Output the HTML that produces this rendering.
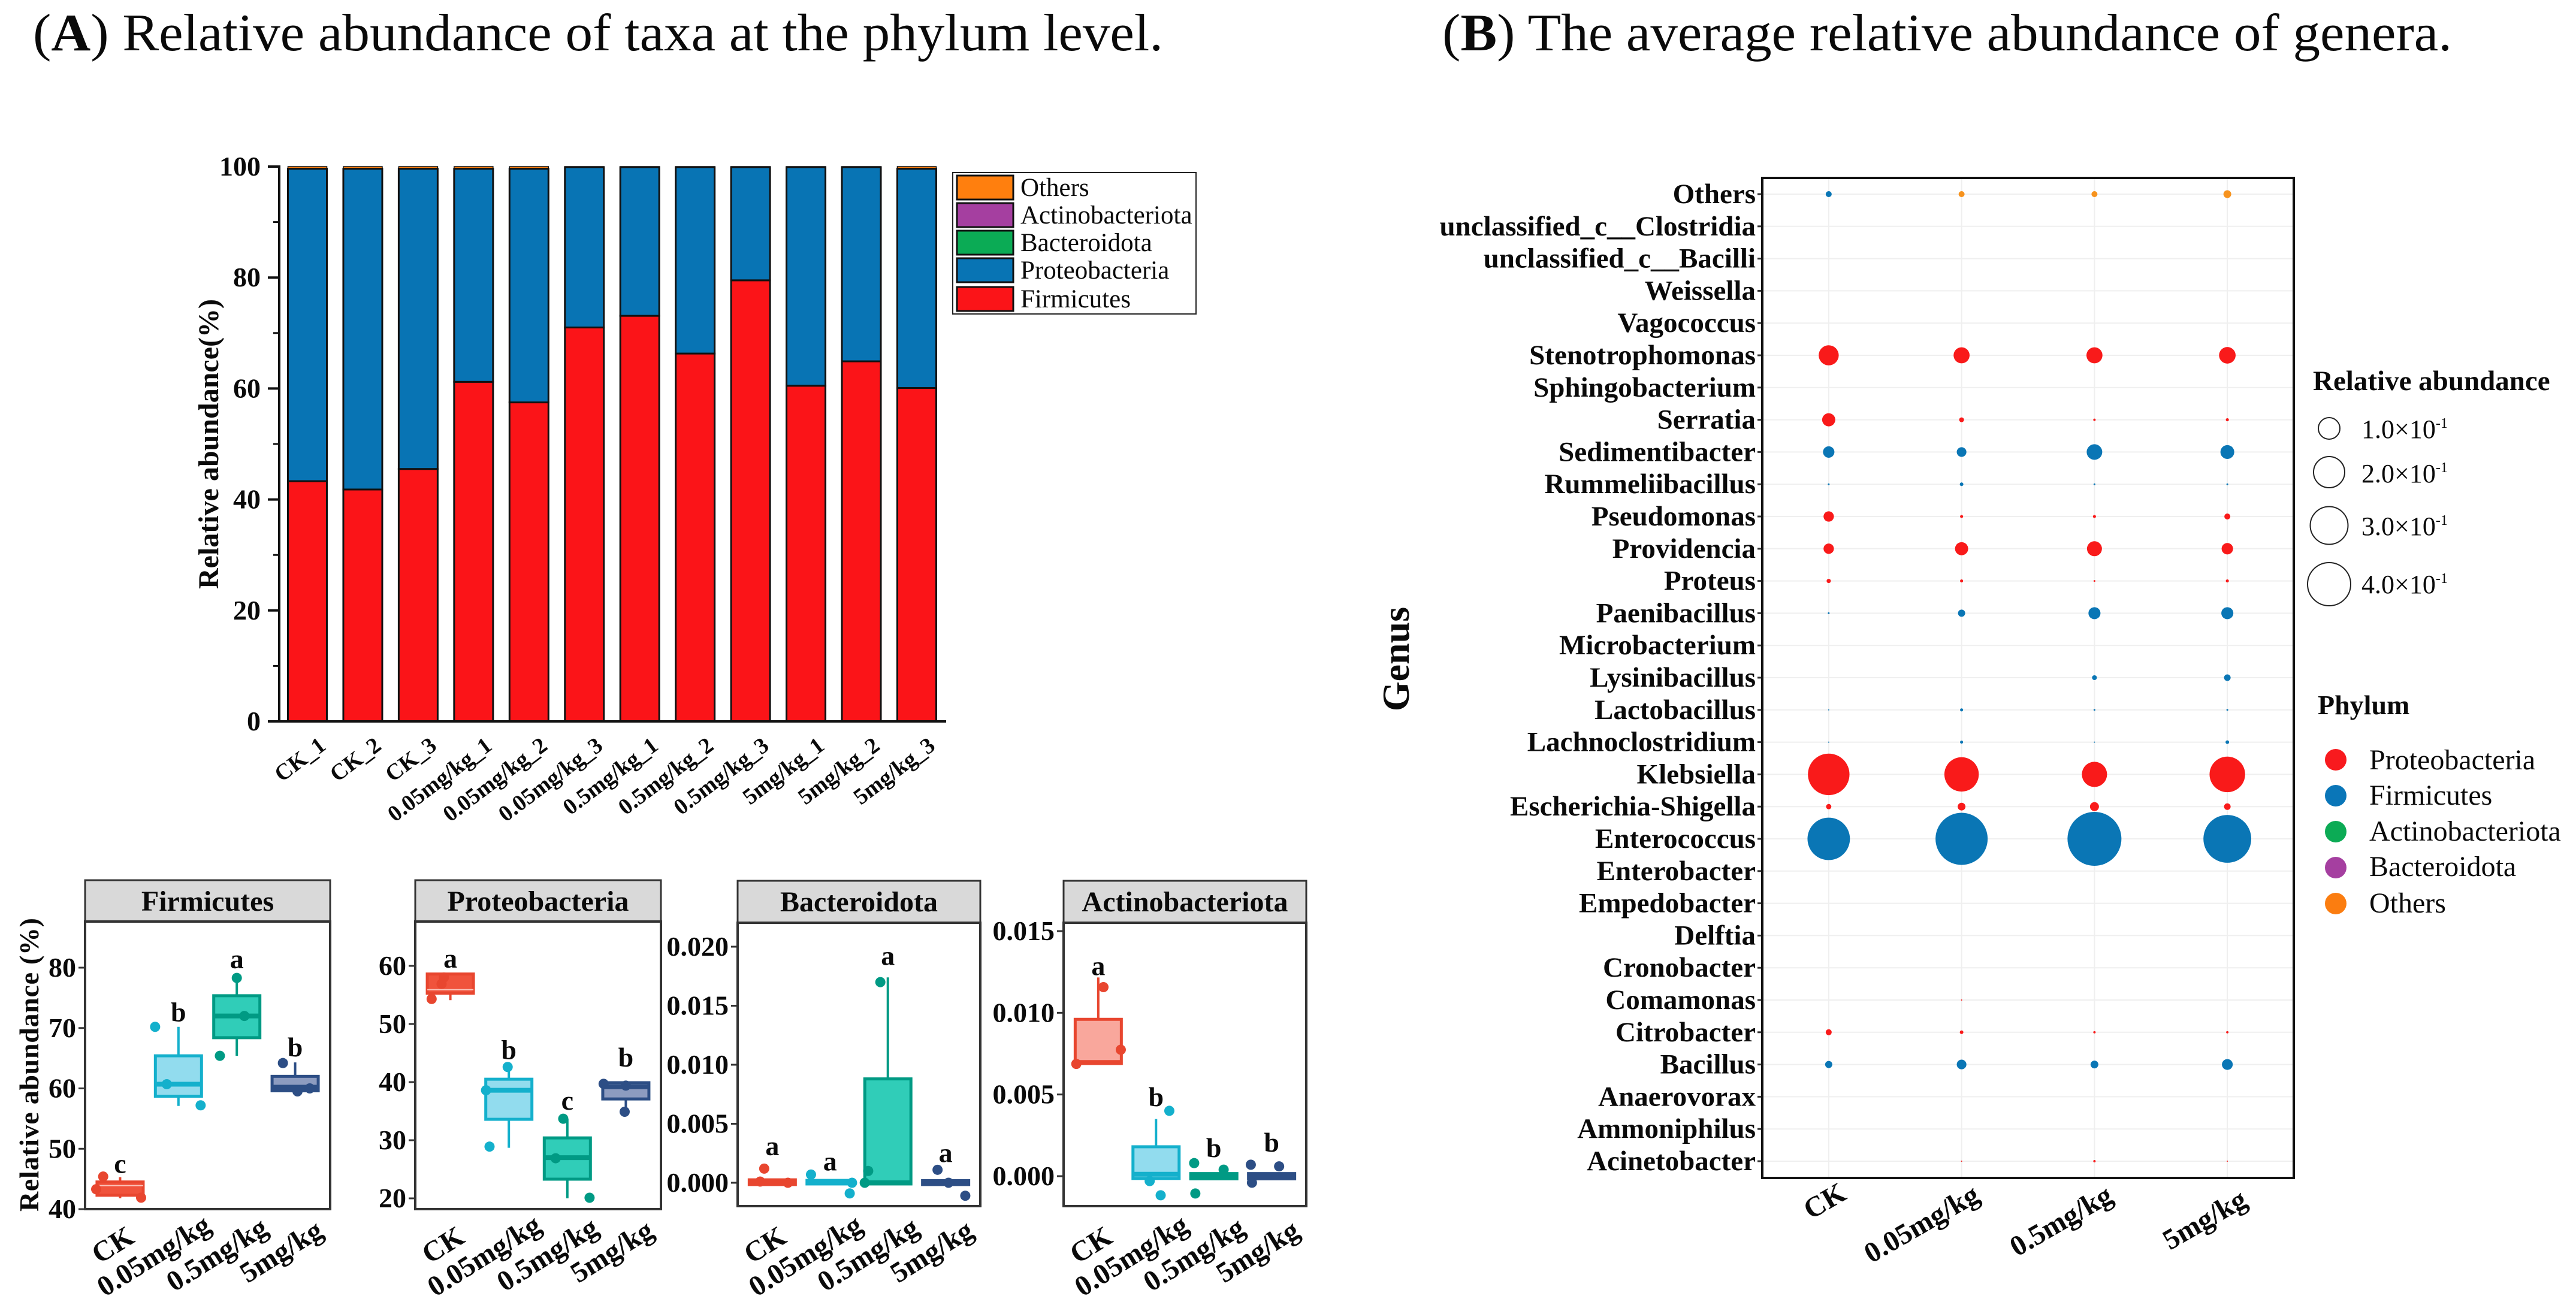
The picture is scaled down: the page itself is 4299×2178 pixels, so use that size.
<!DOCTYPE html>
<html lang="en">
<head>
<meta charset="utf-8">
<title>Relative abundance of taxa and genera</title>
<style>
html,body{margin:0;padding:0;background:#fff;}
body{width:4299px;height:2178px;overflow:hidden;}
svg{display:block;font-family:"Liberation Serif","Noto Serif CJK SC",serif;}
text{fill:#0a0a0a;}
.b{font-weight:bold;}
</style>
</head>
<body>
<svg id="fig" xmlns="http://www.w3.org/2000/svg" width="4299" height="2178" viewBox="0 0 4299 2178">
  <rect x="0" y="0" width="4299" height="2178" fill="#ffffff"/>
  <text x="55" y="84" font-size="88" textLength="1886" lengthAdjust="spacingAndGlyphs">(<tspan class="b">A</tspan>) Relative abundance of taxa at the phylum level.</text>
  <text x="2407" y="84" font-size="88" textLength="1685" lengthAdjust="spacingAndGlyphs">(<tspan class="b">B</tspan>) The average relative abundance of genera.</text>

  <g id="barChart"></g>
  <text class="b" font-size="48" text-anchor="middle" transform="translate(364 741) rotate(-90)">Relative abundance(%)</text>

  <g>
    <rect x="1590" y="288" width="406" height="236" fill="#fff" stroke="#222" stroke-width="2"/>
    <rect x="1597" y="293" width="94" height="40" fill="#ff7f0e" stroke="#111" stroke-width="3"/>
    <rect x="1597" y="339" width="94" height="40" fill="#a53fa0" stroke="#111" stroke-width="3"/>
    <rect x="1597" y="385" width="94" height="40" fill="#0bab55" stroke="#111" stroke-width="3"/>
    <rect x="1597" y="431" width="94" height="40" fill="#0874b4" stroke="#111" stroke-width="3"/>
    <rect x="1597" y="479" width="94" height="40" fill="#fb1418" stroke="#111" stroke-width="3"/>
    <text x="1703" y="327" font-size="43">Others</text>
    <text x="1703" y="373" font-size="43">Actinobacteriota</text>
    <text x="1703" y="419" font-size="43">Bacteroidota</text>
    <text x="1703" y="465" font-size="43">Proteobacteria</text>
    <text x="1703" y="513" font-size="43">Firmicutes</text>
  </g>

  <g id="boxPanels"></g>
  <text class="b" font-size="46" transform="translate(64 2022) rotate(-90)" textLength="490" lengthAdjust="spacing">Relative abundance  (%)</text>

  <g id="bubbleChart"></g>
  <text class="b" font-size="64" text-anchor="middle" transform="translate(2351 1100) rotate(-90)">Genus</text>

  <g>
    <text class="b" x="3860" y="651" font-size="47">Relative abundance</text>
    <circle cx="3887" cy="715" r="18" fill="none" stroke="#222" stroke-width="2"/>
    <circle cx="3887" cy="788" r="26" fill="none" stroke="#222" stroke-width="2"/>
    <circle cx="3887" cy="877" r="31.5" fill="none" stroke="#222" stroke-width="2"/>
    <circle cx="3887" cy="975" r="36" fill="none" stroke="#222" stroke-width="2"/>
    <text x="3941" y="731" font-size="44">1.0×10<tspan font-size="24" dy="-17">-1</tspan></text>
    <text x="3941" y="805" font-size="44">2.0×10<tspan font-size="24" dy="-17">-1</tspan></text>
    <text x="3941" y="893" font-size="44">3.0×10<tspan font-size="24" dy="-17">-1</tspan></text>
    <text x="3941" y="990" font-size="44">4.0×10<tspan font-size="24" dy="-17">-1</tspan></text>
  </g>

  <g>
    <text class="b" x="3868" y="1192" font-size="46">Phylum</text>
    <circle cx="3898" cy="1268" r="18" fill="#f81a1e"/>
    <circle cx="3898" cy="1328" r="18" fill="#0a76b8"/>
    <circle cx="3898" cy="1388" r="18" fill="#0cab55"/>
    <circle cx="3898" cy="1448" r="18" fill="#a53fa0"/>
    <circle cx="3898" cy="1508" r="18" fill="#fb7d10"/>
    <text x="3954" y="1284" font-size="48">Proteobacteria</text>
    <text x="3954" y="1343" font-size="48">Firmicutes</text>
    <text x="3954" y="1403" font-size="48">Actinobacteriota</text>
    <text x="3954" y="1462" font-size="48">Bacteroidota</text>
    <text x="3954" y="1523" font-size="48">Others</text>
  </g>
</svg>

<script>
/* ---------- Stacked bars (panel A, top) ---------- */
const sampleLabels = ['CK_1','CK_2','CK_3','0.05mg/kg_1','0.05mg/kg_2','0.05mg/kg_3','0.5mg/kg_1','0.5mg/kg_2','0.5mg/kg_3','5mg/kg_1','5mg/kg_2','5mg/kg_3'];
const firmicutesValues = [43.3,41.8,45.5,61.2,57.5,71.0,73.1,66.3,79.5,60.5,64.9,60.1];
const proteobacteriaValues = [56.3,57.8,54.1,38.4,42.1,28.9,26.8,33.6,20.4,39.4,35.0,39.5];
const bacteroidotaValues = [0.05,0.05,0.05,0.05,0.05,0.02,0.02,0.02,0.02,0.02,0.02,0.05];
const actinobacteriotaValues = [0.05,0.05,0.05,0.05,0.05,0.02,0.02,0.02,0.02,0.02,0.02,0.05];
const otherPhylaValues = [0.3,0.3,0.3,0.3,0.3,0.06,0.06,0.06,0.06,0.06,0.06,0.3];
const barTicks = [0,20,40,60,80,100];
const barMinorTicks = [10,30,50,70,90];

/* ---------- Box plots (panel A, bottom) ---------- */
const doseLabels = ['CK','0.05mg/kg','0.5mg/kg','5mg/kg'];
const firmicutesTicks = [40,50,60,70,80];
const firmicutesQ1 = [42.3,58.7,68.4,59.6];
const firmicutesMedian = [43.9,60.7,72.0,60.2];
const firmicutesQ3 = [44.5,65.4,75.35,62.0];
const firmicutesWhiskerLow = [41.8,57.1,65.4,59.6];
const firmicutesWhiskerHigh = [45.3,70.2,79.0,64.3];
const firmicutesPoints = [[45.4,43.3,41.9],[70.2,60.7,57.2],[78.3,65.4,72.0],[64.2,59.5,60.0]];
const firmicutesJitter = [[-0.29,-0.41,0.36],[-0.4,-0.2,0.38],[0,-0.29,0.13],[-0.21,0.04,0.25]];
const firmicutesLetters = ['c','b','a','b'];
const firmicutesLetterValues = [47.1,72.2,81.0,66.4];

const proteobacteriaTicks = [20,30,40,50,60];
const proteobacteriaQ1 = [55.3,33.6,23.3,37.1];
const proteobacteriaMedian = [55.9,38.6,27.0,39.2];
const proteobacteriaQ3 = [58.6,40.5,30.4,39.9];
const proteobacteriaWhiskerLow = [54.1,28.7,20.0,34.9];
const proteobacteriaWhiskerHigh = [58.0,42.7,33.7,39.9];
const proteobacteriaPoints = [[58.0,54.3,56.9],[42.6,28.9,38.6],[33.7,20.1,26.9],[39.7,39.4,34.9]];
const proteobacteriaJitter = [[-0.11,-0.32,-0.15],[-0.02,-0.33,-0.39],[-0.07,0.38,-0.2],[-0.38,0,-0.02]];
const proteobacteriaLetters = ['a','b','c','b'];
const proteobacteriaLetterValues = [60.8,45.1,36.4,43.8];

const bacteroidotaTicks = [0,0.005,0.01,0.015,0.02];
const bacteroidotaQ1 = [-0.00015,-0.0001,-0.0001,-0.00015];
const bacteroidotaMedian = [0,0.00005,0,0];
const bacteroidotaQ3 = [0.00025,0.0002,0.0088,0.00018];
const bacteroidotaWhiskerLow = [-0.00015,-0.0001,-0.0001,-0.00015];
const bacteroidotaWhiskerHigh = [0.00025,0.0002,0.0174,0.00018];
const bacteroidotaPoints = [[0.0012,0.0001,0],[0.0007,0,-0.0009],[0.017,0.001,0],[0.0011,0,-0.0011]];
const bacteroidotaJitter = [[-0.14,-0.21,0.27],[-0.33,0.38,0.34],[-0.13,-0.34,-0.4],[-0.14,0.05,0.34]];
const bacteroidotaLetters = ['a','a','a','a'];
const bacteroidotaLetterValues = [0.0029,0.0016,0.019,0.0023];

const actinobacteriotaTicks = [0,0.005,0.01,0.015];
const actinobacteriotaQ1 = [0.0069,-0.00014,-0.00016,-0.00016];
const actinobacteriotaMedian = [0.00696,0.00012,0,0];
const actinobacteriotaQ3 = [0.0096,0.0018,0.00016,0.00016];
const actinobacteriotaWhiskerLow = [0.0069,-0.00014,-0.00016,-0.00016];
const actinobacteriotaWhiskerHigh = [0.01216,0.0035,0.00016,0.00016];
const actinobacteriotaPoints = [[0.01157,0.00774,0.00687],[0.004,-0.00117,-0.0003],[0.0008,-0.00106,0.0004],[0.0007,0.0006,-0.0004]];
const actinobacteriotaJitter = [[0.09,0.39,-0.38],[0.23,0.08,-0.11],[-0.34,-0.32,0.17],[-0.36,0.13,-0.34]];
const actinobacteriotaLetters = ['a','b','b','b'];
const actinobacteriotaLetterValues = [0.0127,0.0047,0.00158,0.0019];

/* ---------- Bubble chart (panel B) ---------- */
const genusLabels = ['Others','unclassified_c__Clostridia','unclassified_c__Bacilli','Weissella','Vagococcus','Stenotrophomonas','Sphingobacterium','Serratia','Sedimentibacter','Rummeliibacillus','Pseudomonas','Providencia','Proteus','Paenibacillus','Microbacterium','Lysinibacillus','Lactobacillus','Lachnoclostridium','Klebsiella','Escherichia-Shigella','Enterococcus','Enterobacter','Empedobacter','Delftia','Cronobacter','Comamonas','Citrobacter','Bacillus','Anaerovorax','Ammoniphilus','Acinetobacter'];
const genusPhylum = ['O','F','F','F','F','P','F','P','F','F','P','P','P','F','F','F','F','F','P','P','F','P','F','P','P','P','P','F','F','F','P'];
const abundanceCK = [0.0077,0,0,0,0,0.086,0,0.037,0.028,0.0007,0.023,0.023,0.0038,0.0007,0,0,0.0003,0.0003,0.37,0.006,0.386,0,0,0,0,0,0.0077,0.011,0,0,0];
const abundance005 = [0.0077,0,0,0,0,0.055,0,0.005,0.02,0.0028,0.002,0.037,0.002,0.011,0,0,0.002,0.002,0.2535,0.013,0.582,0,0,0,0,0.0003,0.0028,0.02,0,0,0.0003];
const abundance05 = [0.0077,0,0,0,0,0.055,0,0.0012,0.052,0.0007,0.002,0.048,0.0007,0.031,0,0.005,0.0007,0.0003,0.136,0.0173,0.623,0,0,0,0,0,0.0012,0.013,0,0,0.0012];
const abundance5 = [0.013,0,0,0,0,0.059,0,0.002,0.041,0.0007,0.0077,0.028,0.002,0.031,0,0.0093,0.0007,0.0028,0.271,0.0093,0.49,0,0,0,0,0,0.0012,0.025,0,0,0.0003];
const firstOthersPhylum = 'F';

const SVGNS = 'http://www.w3.org/2000/svg';
function mk(parent, tag, attrs, txt) {
  const el = document.createElementNS(SVGNS, tag);
  for (const k in attrs) el.setAttribute(k, attrs[k]);
  if (txt !== undefined) el.textContent = txt;
  parent.appendChild(el);
  return el;
}
function scale(v0, p0, v1, p1) {
  return function (v) { return p0 + (v - v0) * (p1 - p0) / (v1 - v0); };
}

/* ===== stacked bars ===== */
(function () {
  const g = document.getElementById('barChart');
  const y = scale(0, 1204, 100, 278);
  const x = function (i) { return 513 + i * 92.45; };
  const barW = 65;
  const series = [
    ['firmicutes', firmicutesValues, '#fb1418'],
    ['proteobacteria', proteobacteriaValues, '#0874b4'],
    ['bacteroidota', bacteroidotaValues, '#0bab55'],
    ['actinobacteriota', actinobacteriotaValues, '#a53fa0'],
    ['others', otherPhylaValues, '#ff7f0e']
  ];
  sampleLabels.forEach(function (lab, i) {
    let cum = 0;
    series.forEach(function (s) {
      const v = s[1][i];
      const rect = mk(g, 'rect', { x: x(i) - barW / 2, y: y(cum + v), width: barW, height: y(cum) - y(cum + v), fill: s[2], stroke: '#111', 'stroke-width': v < 1 ? 1.5 : 3 });
      
      
      cum += v;
    });
    const t = mk(g, 'text', { 'class': 'b', 'font-size': 38, 'text-anchor': 'end', transform: 'translate(' + (x(i) + 33) + ' 1249) rotate(-37)' }, lab);
    
    
  });
  const yAxis = mk(g, 'line', { x1: 466, x2: 466, y1: 276, y2: 1206, stroke: '#111', 'stroke-width': 4 });
  
  
  const xAxis = mk(g, 'line', { x1: 447, x2: 1579, y1: 1204, y2: 1204, stroke: '#111', 'stroke-width': 4 });
  
  
  barTicks.forEach(function (v) {
    const tk = mk(g, 'line', { x1: 447, x2: 466, y1: y(v), y2: y(v), stroke: '#111', 'stroke-width': 4 });
    
    
    const t = mk(g, 'text', { 'class': 'b', 'font-size': 46, 'text-anchor': 'end', x: 435, y: y(v) + 15 }, String(v));
    
    
  });
  barMinorTicks.forEach(function (v) {
    const tk = mk(g, 'line', { x1: 456, x2: 466, y1: y(v), y2: y(v), stroke: '#111', 'stroke-width': 3 });
    
    
  });
})();

/* ===== box panels ===== */
const doseStroke = ['#e8462f', '#14b0cc', '#009a84', '#2d4e85'];
const doseFill = ['#f9a79c', '#92dcee', '#30cdb8', '#8d9cc0'];
const labelDx = [-4, -33, -25, -15];
const labelDy = [59, 77, 75, 70];
function drawPanel(o) {
  const root = document.getElementById('boxPanels');
  const g = mk(root, 'g', {});
  
  
  const w = o.x1 - o.x0;
  const step = w / 4.2;
  const xc = function (i) { return o.x0 + step * (0.6 + i); };
  const y = scale(o.cal[0], o.cal[1], o.cal[2], o.cal[3]);
  const strip = mk(g, 'rect', { x: o.x0, y: o.top, width: w, height: o.strip - o.top, fill: '#d9d9d9', stroke: '#333', 'stroke-width': 3 });
  
  
  const title = mk(g, 'text', { 'class': 'b', 'font-size': 48, 'text-anchor': 'middle', x: (o.x0 + o.x1) / 2, y: o.top + 51 }, o.title);
  
  
  const frame = mk(g, 'rect', { x: o.x0, y: o.strip, width: w, height: o.bottom - o.strip, fill: '#fff', stroke: '#333', 'stroke-width': 4 });
  
  
  o.ticks.forEach(function (v) {
    const tk = mk(g, 'line', { x1: o.x0 - 11, x2: o.x0, y1: y(v), y2: y(v), stroke: '#333', 'stroke-width': 3 });
    
    
    const t = mk(g, 'text', { 'class': 'b', 'font-size': o.tickSize, 'text-anchor': 'end', x: o.x0 - 15, y: y(v) + 15 }, o.fmt(v));
    
    
  });
  doseLabels.forEach(function (lab, i) {
    const c = xc(i);
    const bw = 77;
    const wh = mk(g, 'line', { x1: c, x2: c, y1: y(o.wHigh[i]), y2: y(o.wLow[i]), stroke: doseStroke[i], 'stroke-width': 4 });
    
    
    const box = mk(g, 'rect', { x: c - bw / 2, y: y(o.q3[i]), width: bw, height: y(o.q1[i]) - y(o.q3[i]), fill: i === 0 && o.lightMedian ? '#f0533c' : doseFill[i], stroke: doseStroke[i], 'stroke-width': 5 });
    
    
    const med = mk(g, 'line', { x1: c - bw / 2, x2: c + bw / 2, y1: y(o.med[i]), y2: y(o.med[i]), stroke: i === 0 && o.lightMedian ? '#fbc3b9' : doseStroke[i], 'stroke-width': i === 0 && o.lightMedian ? 2 : 8 });
    
    
    o.pts[i].forEach(function (v, j) {
      const p = mk(g, 'circle', { cx: c + o.jit[i][j] * step, cy: y(v), r: 8.5, fill: doseStroke[i] });
      
      
    });
    const let_ = mk(g, 'text', { 'class': 'b', 'font-size': 46, 'text-anchor': 'middle', x: c, y: y(o.letVals[i]) + 11 }, o.letters[i]);
    
    
    const xl = mk(g, 'text', { 'class': 'b', 'font-size': 48, 'text-anchor': 'middle', transform: 'translate(' + (c + labelDx[i]) + ' ' + (2018 + labelDy[i] + 14) + ') rotate(-32)' }, lab);
    
    
  });
}
const fmtInt = function (v) { return String(v); };
const fmt3 = function (v) { return v.toFixed(3); };
drawPanel({ title: 'Firmicutes', x0: 142, x1: 551, top: 1469, strip: 1538, bottom: 2018, cal: [40, 2018, 80, 1615], ticks: firmicutesTicks, fmt: fmtInt, tickSize: 46, q1: firmicutesQ1, med: firmicutesMedian, q3: firmicutesQ3, wLow: firmicutesWhiskerLow, wHigh: firmicutesWhiskerHigh, pts: firmicutesPoints, jit: firmicutesJitter, letters: firmicutesLetters, letVals: firmicutesLetterValues, lightMedian: true });
drawPanel({ title: 'Proteobacteria', x0: 693, x1: 1103, top: 1469, strip: 1538, bottom: 2018, cal: [20, 2000, 60, 1612], ticks: proteobacteriaTicks, fmt: fmtInt, tickSize: 46, q1: proteobacteriaQ1, med: proteobacteriaMedian, q3: proteobacteriaQ3, wLow: proteobacteriaWhiskerLow, wHigh: proteobacteriaWhiskerHigh, pts: proteobacteriaPoints, jit: proteobacteriaJitter, letters: proteobacteriaLetters, letVals: proteobacteriaLetterValues, lightMedian: true });
drawPanel({ title: 'Bacteroidota', x0: 1231, x1: 1636, top: 1470, strip: 1540, bottom: 2013, cal: [0, 1974, 0.02, 1580], ticks: bacteroidotaTicks, fmt: fmt3, tickSize: 46, q1: bacteroidotaQ1, med: bacteroidotaMedian, q3: bacteroidotaQ3, wLow: bacteroidotaWhiskerLow, wHigh: bacteroidotaWhiskerHigh, pts: bacteroidotaPoints, jit: bacteroidotaJitter, letters: bacteroidotaLetters, letVals: bacteroidotaLetterValues });
drawPanel({ title: 'Actinobacteriota', x0: 1775, x1: 2180, top: 1470, strip: 1540, bottom: 2013, cal: [0, 1963, 0.015, 1554], ticks: actinobacteriotaTicks, fmt: fmt3, tickSize: 46, q1: actinobacteriotaQ1, med: actinobacteriotaMedian, q3: actinobacteriotaQ3, wLow: actinobacteriotaWhiskerLow, wHigh: actinobacteriotaWhiskerHigh, pts: actinobacteriotaPoints, jit: actinobacteriotaJitter, letters: actinobacteriotaLetters, letVals: actinobacteriotaLetterValues });

/* ===== bubble chart ===== */
(function () {
  const g = document.getElementById('bubbleChart');
  const L = 2941, R = 3828, T = 297, B = 1966;
  const colStep = (R - L) / 4;
  const cx = function (c) { return L + colStep * (c + 0.5); };
  const cy = function (r) { return 324 + r * 53.8; };
  const rad = function (v) { return 57 * Math.sqrt(v); };
  const colours = { P: '#f91a1a', F: '#0a76b5', O: '#f7931e' };
  const columns = [abundanceCK, abundance005, abundance05, abundance5];
  const bg = mk(g, 'rect', { x: L, y: T, width: R - L, height: B - T, fill: '#fff' });
  
  
  genusLabels.forEach(function (lab, r) {
    const gl = mk(g, 'line', { x1: L, x2: R, y1: cy(r), y2: cy(r), stroke: '#efefef', 'stroke-width': 2 });
    
    
  });
  doseLabels.forEach(function (lab, c) {
    const gl = mk(g, 'line', { x1: cx(c), x2: cx(c), y1: T, y2: B, stroke: '#efefef', 'stroke-width': 2 });
    
    
  });
  genusLabels.forEach(function (lab, r) {
    const tk = mk(g, 'line', { x1: L - 8, x2: L, y1: cy(r), y2: cy(r), stroke: '#333', 'stroke-width': 3 });
    
    
    const t = mk(g, 'text', { 'class': 'b', 'font-size': 47, 'text-anchor': 'end', x: 2930, y: cy(r) + 15 }, lab);
    
    
    columns.forEach(function (col, c) {
      if (col[r] <= 0) return;
      const ph = (r === 0 && c === 0) ? firstOthersPhylum : genusPhylum[r];
      const b = mk(g, 'circle', { cx: cx(c), cy: cy(r), r: rad(col[r]), fill: colours[ph] });
      
      
    });
  });
  const frame = mk(g, 'rect', { x: L, y: T, width: R - L, height: B - T, fill: 'none', stroke: '#111', 'stroke-width': 4 });
  
  
  const dxs = [1, -59, -48, -30];
  const dys = [38, 76, 71, 69];
  doseLabels.forEach(function (lab, c) {
    const t = mk(g, 'text', { 'class': 'b', 'font-size': 48, 'text-anchor': 'middle', transform: 'translate(' + (cx(c) + dxs[c]) + ' ' + (B + dys[c] + 14) + ') rotate(-30)' }, lab);
    
    
  });
})();
</script>
</body>
</html>
